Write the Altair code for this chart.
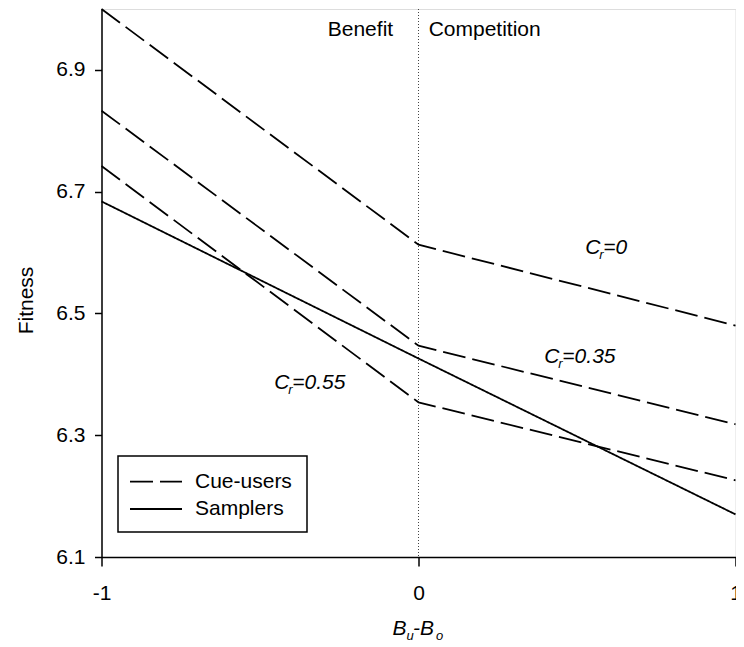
import altair as alt
import pandas as pd

# ---- data ----
x_vals = [-1, 0, 1]
cue_c0 = [7.0, 6.613, 6.48]
cue_c035 = [6.833, 6.447, 6.318]
cue_c055 = [6.742, 6.354, 6.226]
samplers = [6.684, 6.426, 6.17]

y_ticks = [6.1, 6.3, 6.5, 6.7, 6.9]
x_ticks = [-1, 0, 1]

# annotation labels (C_r = ...)
cr_x = [0.526, 0.397, -0.455]
cr_y = [6.607, 6.428, 6.385]
cr_rest = ["=0", "=0.35", "=0.55"]

region_text = ["Benefit", "Competition"]
region_x = [-0.08, 0.032]
region_y = [6.965, 6.965]
region_align = ["right", "left"]

legend_labels = ["Cue-users", "Samplers"]

rows = []
for name, kind, vals in [("C0", "Cue-users", cue_c0), ("C035", "Cue-users", cue_c035),
                         ("C055", "Cue-users", cue_c055), ("S", "Samplers", samplers)]:
    for xv, yv in zip(x_vals, vals):
        rows.append(dict(x=xv, y=yv, series=name, kind=kind))
df = pd.DataFrame(rows)

W, H = 634, 548
FONT = "Liberation Sans"
FS = 21
DASH = [23, 7]

xscale = alt.Scale(domain=[-1, 1], nice=False, zero=False)
yscale = alt.Scale(domain=[6.1, 7.0], nice=False, zero=False)

xaxis = alt.Axis(values=x_ticks, title=None, labelExpr="toString(datum.value)",
                 grid=False, tickSize=9, tickWidth=1.5, tickColor="black",
                 domainColor="black", domainWidth=1.5, labelFont=FONT, labelFontSize=FS,
                 labelColor="black", labelPadding=16, labelFlush=False, labelOverlap=False)
yaxis = alt.Axis(values=y_ticks, format=".1f", title="Fitness", grid=False, tickSize=7,
                 tickWidth=1.5, tickColor="black", domainColor="black", domainWidth=1.5,
                 labelFont=FONT, labelFontSize=FS, labelColor="black", labelPadding=9.5,
                 titleFont=FONT, titleFontSize=FS, titleFontWeight="normal", titleColor="black",
                 titleAngle=-90, titleX=-75.5, titleY=291, titleAlign="center",
                 titleBaseline="middle", labelFlush=False, labelOverlap=False)

lines = alt.Chart(df).mark_line(strokeWidth=1.8, color="black").encode(
    x=alt.X("x:Q", scale=xscale, axis=xaxis),
    y=alt.Y("y:Q", scale=yscale, axis=yaxis),
    detail="series:N",
    strokeDash=alt.StrokeDash(
        "kind:N",
        scale=alt.Scale(domain=legend_labels, range=[DASH, [1, 0]]),
        legend=None,
    ),
)

divider = alt.Chart(pd.DataFrame({"x": [0]})).mark_rule(
    strokeDash=[1, 2], color="#444", strokeWidth=1
).encode(x=alt.X("x:Q", scale=xscale))

reg_df = pd.DataFrame({"t": region_text, "x": region_x, "y": region_y, "a": region_align})
reg_b = alt.Chart(reg_df[reg_df.a == "right"]).mark_text(
    align="right", baseline="middle", font=FONT, fontSize=FS, color="black"
).encode(x=alt.X("x:Q", scale=xscale), y=alt.Y("y:Q", scale=yscale), text="t:N")
reg_c = alt.Chart(reg_df[reg_df.a == "left"]).mark_text(
    align="left", baseline="middle", font=FONT, fontSize=FS, color="black"
).encode(x=alt.X("x:Q", scale=xscale), y=alt.Y("y:Q", scale=yscale), text="t:N")

cr_df = pd.DataFrame({"x": cr_x, "y": cr_y, "rest": cr_rest, "c": ["C"] * 3, "r": ["r"] * 3})
cr_base = alt.Chart(cr_df).encode(x=alt.X("x:Q", scale=xscale), y=alt.Y("y:Q", scale=yscale))
cr_c = cr_base.mark_text(align="left", baseline="middle", font=FONT, fontSize=FS,
                         fontStyle="italic", color="black").encode(text="c:N")
cr_r = cr_base.mark_text(align="left", baseline="middle", font=FONT, fontSize=13,
                         fontStyle="italic", color="black", dx=14, dy=7).encode(text="r:N")
cr_e = cr_base.mark_text(align="left", baseline="middle", font=FONT, fontSize=FS,
                         fontStyle="italic", color="black", dx=18).encode(text="rest:N")

# x-axis title B_u-B_o
xt_df = pd.DataFrame({"x": [0]})
xt_base = alt.Chart(xt_df).encode(x=alt.X("x:Q", scale=xscale))
xt1 = xt_base.mark_text(align="left", baseline="middle", font=FONT, fontSize=FS,
                        fontStyle="italic", color="black", dx=-26).encode(
    y=alt.value(H + 72), text=alt.value("B"))
xt2 = xt_base.mark_text(align="left", baseline="middle", font=FONT, fontSize=13,
                        fontStyle="italic", color="black", dx=-12).encode(
    y=alt.value(H + 79), text=alt.value("u"))
xt3 = xt_base.mark_text(align="left", baseline="middle", font=FONT, fontSize=FS,
                        fontStyle="italic", color="black", dx=-5.5).encode(
    y=alt.value(H + 72), text=alt.value("-B"))
xt4 = xt_base.mark_text(align="left", baseline="middle", font=FONT, fontSize=13,
                        fontStyle="italic", color="black", dx=17.5).encode(
    y=alt.value(H + 79), text=alt.value("o"))

# legend box (drawn inside the plot, like the original)
one = pd.DataFrame({"k": [0]})
leg_box = alt.Chart(one).mark_rect(fill="white", stroke="black", strokeWidth=1.5).encode(
    x=alt.value(16.5), x2=alt.value(205.5), y=alt.value(447), y2=alt.value(523))
leg_dash = alt.Chart(one).mark_rule(color="black", strokeWidth=1.8, strokeDash=DASH).encode(
    x=alt.value(28.5), x2=alt.value(80.5), y=alt.value(472.7))
leg_solid = alt.Chart(one).mark_rule(color="black", strokeWidth=1.8).encode(
    x=alt.value(28.5), x2=alt.value(80.5), y=alt.value(500))
leg_t1 = alt.Chart(one).mark_text(align="left", baseline="middle", font=FONT, fontSize=FS,
                                  color="black").encode(
    x=alt.value(93.5), y=alt.value(472.7), text=alt.value(legend_labels[0]))
leg_t2 = alt.Chart(one).mark_text(align="left", baseline="middle", font=FONT, fontSize=FS,
                                  color="black").encode(
    x=alt.value(93.5), y=alt.value(500), text=alt.value(legend_labels[1]))

chart = alt.layer(divider, lines, reg_b, reg_c, cr_c, cr_r, cr_e, xt1, xt2, xt3, xt4,
                  leg_box, leg_dash, leg_solid, leg_t1, leg_t2).properties(
    width=W, height=H,
    autosize=alt.AutoSizeParams(type="none"),
    padding={"left": 93.5, "top": 1, "right": 0.5, "bottom": 86},
).configure_view(stroke="#333", strokeWidth=1.2).configure(background="white")

chart.save("out.html", embed_options={"renderer": "svg", "actions": False})
